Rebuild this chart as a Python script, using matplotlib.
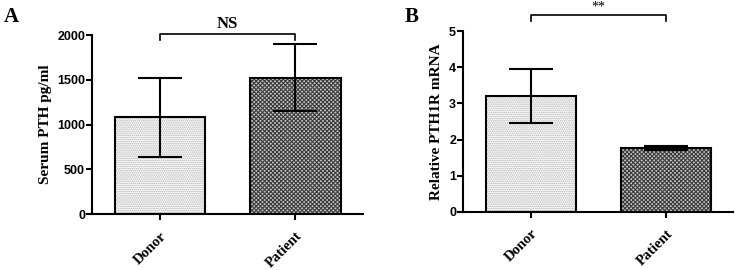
import matplotlib.pyplot as plt

groups = ["Donor", "Patient"]
pth_mean = [1080, 1525]
pth_err = [445, 375]
mrna_mean = [3.2, 1.77]
mrna_err = [0.75, 0.05]

serif = "Liberation Serif"
sans = "Liberation Sans"

plt.rcParams["hatch.linewidth"] = 0.8

fig = plt.figure(figsize=(7.39, 2.7), dpi=100)
axA = fig.add_axes([0.1245, 0.207, 0.367, 0.663])
axB = fig.add_axes([0.6265, 0.215, 0.366, 0.670])


def draw(ax, means, errs, ymax, step, ylabel):
    x = [0, 1]
    hatches = ["........", "xxxxxxxx"]
    faces = ["white", "#c4c4c4"]
    hcols = ["#b0b0b0", "#3c3c3c"]
    for i in x:
        ax.bar(i, means[i], width=0.667, color=faces[i], hatch=hatches[i],
               edgecolor=hcols[i], linewidth=0, zorder=1)
        ax.bar(i, means[i], width=0.667, fill=False, edgecolor="black",
               linewidth=1.5, zorder=2)
        ax.errorbar(i, means[i], yerr=errs[i], color="black", capsize=16,
                    elinewidth=1.5, capthick=1.5, zorder=3)
    ax.set_xlim(-0.5, 1.5)
    ax.set_ylim(0, ymax)
    ax.set_yticks([k * step for k in range(int(round(ymax / step)) + 1)])
    ax.set_xticks(x)
    ax.set_xticklabels(groups, rotation=45, ha="right", rotation_mode="anchor",
                       fontfamily=serif, fontweight="bold", fontsize=10.5)
    for lab in ax.get_yticklabels():
        lab.set_fontfamily(sans)
        lab.set_fontweight("bold")
        lab.set_fontsize(9)
    ax.set_ylabel(ylabel, fontfamily=serif, fontweight="bold", fontsize=11)
    ax.spines["top"].set_visible(False)
    ax.spines["right"].set_visible(False)
    ax.spines["left"].set_linewidth(1.5)
    ax.spines["bottom"].set_linewidth(1.5)
    ax.tick_params(direction="out", length=4, width=1.5, pad=1)
    ax.tick_params(axis="x", pad=7)


draw(axA, pth_mean, pth_err, 2000, 500, "Serum PTH pg/ml")
draw(axB, mrna_mean, mrna_err, 5, 1, "Relative PTH1R mRNA")

# significance brackets
axA.plot([0, 0, 1, 1], [1950, 2010, 2010, 1950], color="black", lw=1.2, clip_on=False)
axA.text(0.5, 2030, "NS", ha="center", va="bottom", fontfamily=serif,
         fontweight="bold", fontsize=12)
axB.plot([0, 0, 1, 1], [5.28, 5.44, 5.44, 5.28], color="black", lw=1.2, clip_on=False)
axB.text(0.5, 5.47, "**", ha="center", va="bottom", fontfamily=serif, fontsize=10)

fig.text(0.005, 0.975, "A", ha="left", va="top", fontfamily=serif,
         fontweight="bold", fontsize=15)
fig.text(0.547, 0.975, "B", ha="left", va="top", fontfamily=serif,
         fontweight="bold", fontsize=15)

fig.savefig("out.png", dpi=100)
